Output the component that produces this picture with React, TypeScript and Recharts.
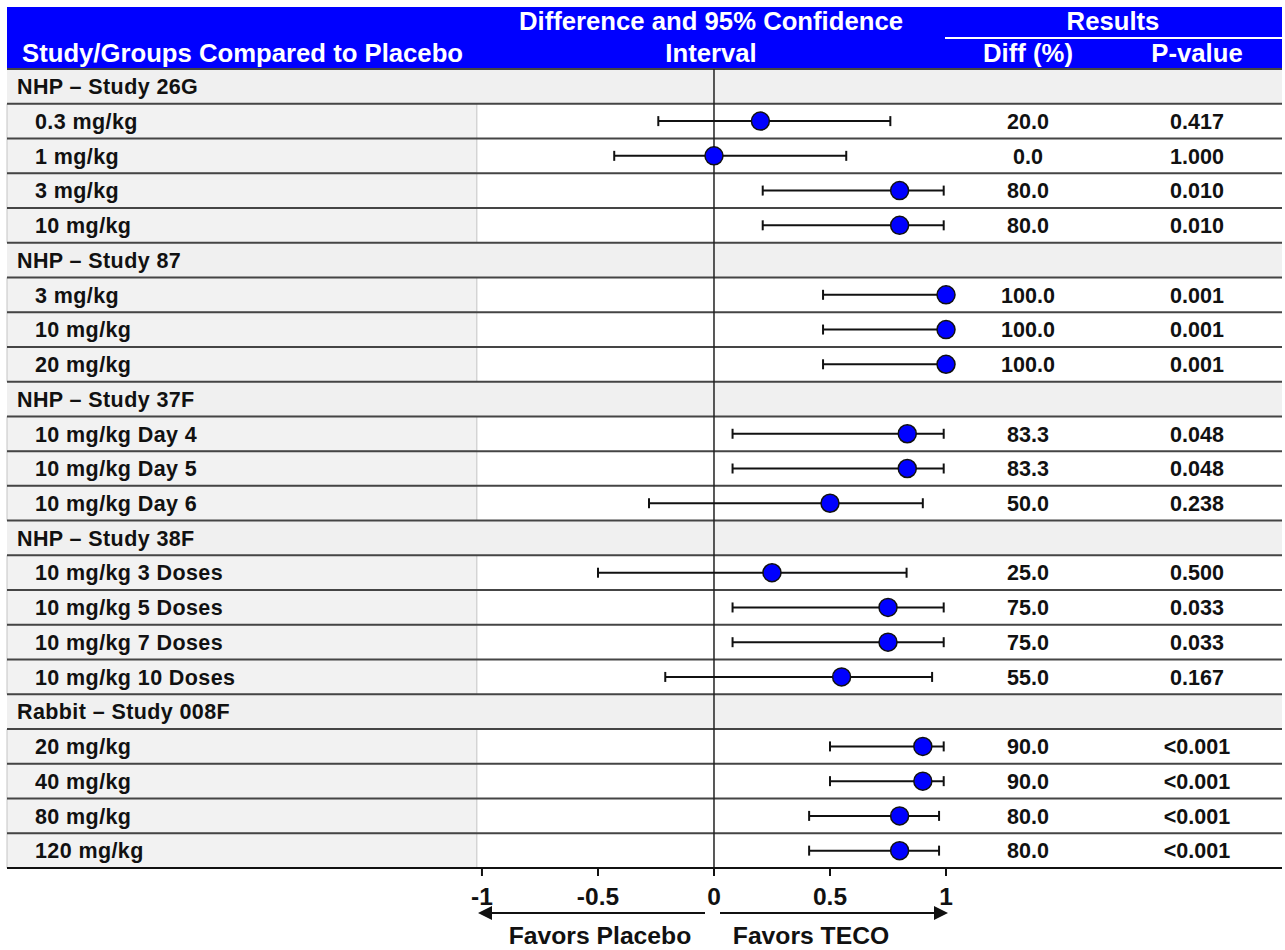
import React from 'react';
import { ComposedChart, Scatter, XAxis, YAxis, ErrorBar, ReferenceArea, ReferenceLine } from 'recharts';

const studies = ['NHP – Study 26G', 'NHP – Study 87', 'NHP – Study 37F', 'NHP – Study 38F', 'Rabbit – Study 008F'];
const studyOf = [0, 0, 0, 0, 1, 1, 1, 2, 2, 2, 3, 3, 3, 3, 4, 4, 4, 4];
const groups = [
  '0.3 mg/kg', '1 mg/kg', '3 mg/kg', '10 mg/kg',
  '3 mg/kg', '10 mg/kg', '20 mg/kg',
  '10 mg/kg Day 4', '10 mg/kg Day 5', '10 mg/kg Day 6',
  '10 mg/kg 3 Doses', '10 mg/kg 5 Doses', '10 mg/kg 7 Doses', '10 mg/kg 10 Doses',
  '20 mg/kg', '40 mg/kg', '80 mg/kg', '120 mg/kg',
];
const diffPct = [20.0, 0.0, 80.0, 80.0, 100.0, 100.0, 100.0, 83.3, 83.3, 50.0, 25.0, 75.0, 75.0, 55.0, 90.0, 90.0, 80.0, 80.0];
const ciLow = [-0.24, -0.43, 0.21, 0.21, 0.47, 0.47, 0.47, 0.08, 0.08, -0.28, -0.5, 0.08, 0.08, -0.21, 0.5, 0.5, 0.41, 0.41];
const ciHigh = [0.76, 0.57, 0.99, 0.99, 1.0, 1.0, 1.0, 0.99, 0.99, 0.9, 0.83, 0.99, 0.99, 0.94, 0.99, 0.99, 0.97, 0.97];
const pValues = ['0.417', '1.000', '0.010', '0.010', '0.001', '0.001', '0.001', '0.048', '0.048', '0.238', '0.500', '0.033', '0.033', '0.167', '<0.001', '<0.001', '<0.001', '<0.001'];
const xTicks = [-1, -0.5, 0, 0.5, 1];

// x domain stretched so the table spans the whole plot area while -1..1 sits in the middle
const X_MIN = -3.047;
const X_MAX = 2.448;
const LABEL_EDGE = -1.022;

const FONT = '"Liberation Sans", Arial, Helvetica, sans-serif';

type Row = { kind: 'study' | 'group'; label: string; item: number };
const rows: Row[] = [];
studies.forEach((s, si) => {
  rows.push({ kind: 'study', label: s, item: -1 });
  groups.forEach((g, gi) => {
    if (studyOf[gi] === si) rows.push({ kind: 'group', label: g, item: gi });
  });
});

const points = rows
  .map((r, i) => ({ r, i }))
  .filter(({ r }) => r.kind === 'group')
  .map(({ r, i }) => {
    const x = diffPct[r.item] / 100;
    return { x, y: i, err: [x - ciLow[r.item], ciHigh[r.item] - x] };
  });

// one anchor per row, used only to place the table text on the row's y position
const rowAnchors = rows.map((r, i) => ({ x: X_MIN, y: i, row: r }));

const RowText = (props: any) => {
  const { cy, payload } = props;
  const r: Row = payload.row;
  const common = { fontFamily: FONT, fontWeight: 'bold' as const, fontSize: 21.5, fill: '#111', dy: '0.36em' };
  if (r.kind === 'study') {
    return <text x={17} y={cy} letterSpacing={0.4} {...common}>{r.label}</text>;
  }
  return (
    <g>
      <text x={35} y={cy} letterSpacing={0.4} {...common}>{r.label}</text>
      <text x={1028} y={cy} textAnchor="middle" {...common}>{diffPct[r.item].toFixed(1)}</text>
      <text x={1197} y={cy} textAnchor="middle" {...common}>{pValues[r.item]}</text>
    </g>
  );
};

const XTick = (props: any) => {
  const { x, y, payload } = props;
  return (
    <text x={x} y={y + 27} textAnchor="middle" fontFamily={FONT} fontWeight="bold" fontSize={24.5} fill="#111">
      {payload.value}
    </text>
  );
};

const Dot = (props: any) => (
  <circle cx={props.cx} cy={props.cy} r={9} fill="#0000ff" stroke="#111" strokeWidth={1.5} />
);

const Label = ({ x, y, anchor = 'middle', size = 25.7, color = '#fff', children }: any) => (
  <div
    style={{
      position: 'absolute',
      left: x,
      top: y,
      transform: `translate(${anchor === 'middle' ? '-50%' : '0'}, -50%)`,
      fontFamily: FONT,
      fontWeight: 'bold',
      fontSize: size,
      lineHeight: 1,
      color,
      whiteSpace: 'nowrap',
    }}
  >
    {children}
  </div>
);

export default function App() {
  return (
    <div style={{ position: 'relative', width: 1285, height: 950, background: '#fff' }}>
      <style>{'body{margin:0}'}</style>
      <div style={{ position: 'absolute', left: 7, top: 7, width: 1275, height: 62, background: '#0000ff' }} />
      <div style={{ position: 'absolute', left: 945, top: 37, width: 337, height: 2, background: '#fff' }} />
      <Label x={22} y={54} anchor="start">Study/Groups Compared to Placebo</Label>
      <Label x={711} y={22}>Difference and 95% Confidence</Label>
      <Label x={711} y={54}>Interval</Label>
      <Label x={1113} y={22}>Results</Label>
      <Label x={1028} y={54}>Diff (%)</Label>
      <Label x={1197} y={54}>P-value</Label>

      <div style={{ position: 'absolute', left: 0, top: 0 }}>
        <ComposedChart width={1285} height={950} margin={{ top: 69, right: 3, bottom: 52, left: 7 }}>
          {rows.map((r, i) =>
            r.kind === 'study' ? (
              <ReferenceArea key={`bg${i}`} x1={X_MIN} x2={X_MAX} y1={i - 0.5} y2={i + 0.5} fill="#f0f0f0" fillOpacity={1} stroke="none" />
            ) : (
              <ReferenceArea key={`bg${i}`} x1={X_MIN} x2={LABEL_EDGE} y1={i - 0.5} y2={i + 0.5} fill="#f2f2f2" fillOpacity={1} stroke="#c4c4c4" />
            ),
          )}
          {rows.map((_, i) => (
            <ReferenceLine key={`sep${i}`} y={i - 0.5} stroke="#454545" strokeWidth={2} />
          ))}
          <ReferenceLine x={0} stroke="#222" strokeWidth={1.5} />
          <XAxis
            dataKey="x"
            type="number"
            domain={[X_MIN, X_MAX]}
            allowDataOverflow
            ticks={xTicks}
            interval={0}
            tickSize={8}
            tickLine={{ stroke: '#111', strokeWidth: 2 }}
            axisLine={{ stroke: '#111', strokeWidth: 2 }}
            tick={<XTick />}
            height={30}
          />
          <YAxis dataKey="y" type="number" domain={[-0.5, rows.length - 0.5]} reversed hide width={0} />
          <Scatter data={rowAnchors} isAnimationActive={false} shape={<RowText />} />
          <Scatter data={points} isAnimationActive={false} shape={<Dot />}>
            <ErrorBar dataKey="err" direction="x" width={5} stroke="#111" strokeWidth={2} />
          </Scatter>
        </ComposedChart>
      </div>

      <svg width={1285} height={950} style={{ position: 'absolute', left: 0, top: 0, pointerEvents: 'none' }}>
        <line x1={490} y1={913} x2={705} y2={913} stroke="#111" strokeWidth={2} />
        <polygon points="478,913 492,906 492,920" fill="#111" />
        <line x1={720} y1={913} x2={936} y2={913} stroke="#111" strokeWidth={2} />
        <polygon points="948,913 934,906 934,920" fill="#111" />
      </svg>
      <Label x={600} y={936} size={24.7} color="#111">Favors Placebo</Label>
      <Label x={811} y={936} size={24.7} color="#111">Favors TECO</Label>
    </div>
  );
}
